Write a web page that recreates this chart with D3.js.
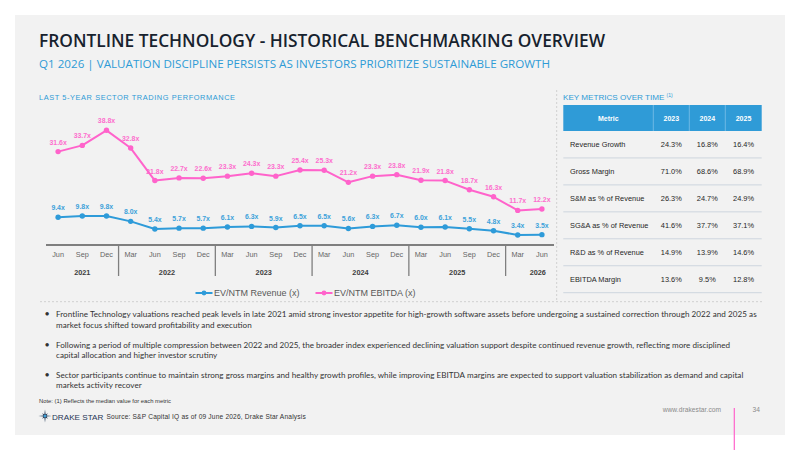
<!DOCTYPE html>
<html><head><meta charset="utf-8">
<script src="https://cdn.jsdelivr.net/npm/d3@7"></script>
<style>body{margin:0;background:#fff}svg{display:block}</style>
</head><body><svg id="c" width="800" height="450"></svg>
<script>
// ---------- DATA ----------
const periods = ["Jun","Sep","Dec","Mar","Jun","Sep","Dec","Mar","Jun","Sep","Dec","Mar","Jun","Sep","Dec","Mar","Jun","Sep","Dec","Mar","Jun"];
const periodYears = ["2021","2021","2021","2022","2022","2022","2022","2023","2023","2023","2023","2024","2024","2024","2024","2025","2025","2025","2025","2026","2026"];
const evRevenue = [9.4,9.8,9.8,8.0,5.4,5.7,5.7,6.1,6.3,5.9,6.5,6.5,5.6,6.3,6.7,6.0,6.1,5.5,4.8,3.4,3.5];
const evEbitda  = [31.6,33.7,38.8,32.8,21.8,22.7,22.6,23.3,24.3,23.3,25.4,25.3,21.2,23.3,23.8,21.9,21.8,18.7,16.3,11.7,12.2];
const seriesNames = ["EV/NTM Revenue (x)","EV/NTM EBITDA (x)"];
const tableHeader = ["Metric","2023","2024","2025"];
const metricNames = ["Revenue Growth","Gross Margin","S&M as % of Revenue","SG&A as % of Revenue","R&D as % of Revenue","EBITDA Margin"];
const metric2023 = ["24.3%","71.0%","26.3%","41.6%","14.9%","13.6%"];
const metric2024 = ["16.8%","68.6%","24.7%","37.7%","13.9%","9.5%"];
const metric2025 = ["16.4%","68.9%","24.9%","37.1%","14.6%","12.8%"];
const bullets = [
 ["Frontline Technology valuations reached peak levels in late 2021 amid strong investor appetite for high-growth software assets before undergoing a sustained correction through 2022 and 2025 as","market focus shifted toward profitability and execution"],
 ["Following a period of multiple compression between 2022 and 2025, the broader index experienced declining valuation support despite continued revenue growth, reflecting more disciplined","capital allocation and higher investor scrutiny"],
 ["Sector participants continue to maintain strong gross margins and healthy growth profiles, while improving EBITDA margins are expected to support valuation stabilization as demand and capital","markets activity recover"]
];
const bulletLineEnds = [[756.7,251.7],[730,217.3],[743.3,141.7]];

// ---------- STYLE ----------
const BLUE = "#2e9bd9", PINK = "#ff63cb", PANEL = "#f2f2f2";
const svg = d3.select("#c");
svg.append("rect").attr("x",15).attr("y",15).attr("width",770).attr("height",420).attr("fill",PANEL);

// fit helper: pick a font size whose natural width does not exceed target
function fitText(sel, target){
  const n = sel.node();
  const fs = +sel.attr("font-size");
  const L = n.getComputedTextLength();
  if (L > target) sel.attr("font-size", fs*target/L);
  sel.attr("textLength", target).attr("lengthAdjust","spacing");
  return sel;
}

// Title
fitText(svg.append("text").attr("x",39).attr("y",46.7).attr("font-family","'Open Sans'").attr("font-weight",600)
  .attr("font-size",18.6).attr("fill","#17222e")
  .text("FRONTLINE TECHNOLOGY - HISTORICAL BENCHMARKING OVERVIEW"), 566);
fitText(svg.append("text").attr("x",39).attr("y",68.3).attr("font-family","'Open Sans'").attr("font-weight",500)
  .attr("font-size",11.6).attr("fill","#2e9bd6")
  .text("Q1 2026 | VALUATION DISCIPLINE PERSISTS AS INVESTORS PRIORITIZE SUSTAINABLE GROWTH"), 511);
fitText(svg.append("text").attr("x",39).attr("y",100).attr("font-family","'Liberation Sans',Arial").attr("font-size",7.4)
  .attr("fill","#2e9bd6").text("LAST 5-YEAR SECTOR TRADING PERFORMANCE"), 196);
const km = svg.append("text").attr("x",563).attr("y",100).attr("font-family","'Liberation Sans',Arial").attr("font-size",8.1).attr("fill","#2e9bd6");
km.append("tspan").text("KEY METRICS OVER TIME ");
km.append("tspan").attr("font-size",5).attr("dy",-3).text("(1)");

// dashed dividers
svg.append("line").attr("x1",556.7).attr("x2",556.7).attr("y1",90).attr("y2",300)
  .attr("stroke","#c6c6c6").attr("stroke-width",0.8).attr("stroke-dasharray","2,2");
svg.append("line").attr("x1",40).attr("x2",762).attr("y1",301.7).attr("y2",301.7)
  .attr("stroke","#c6c6c6").attr("stroke-width",0.8).attr("stroke-dasharray","2,2");

// ---------- CHART ----------
const idx = d3.range(periods.length);
const x = d3.scaleBand().domain(idx).range([46,554]);
const y = d3.scaleLinear().domain([0,45]).range([245,112]);
const cx = i => x(i) + x.bandwidth()/2;

const g = svg.append("g");
const line = d3.line().x((d,i)=>cx(i)).y(d=>y(d));
[[evRevenue,BLUE],[evEbitda,PINK]].forEach(([vals,col])=>{
  g.append("path").datum(vals).attr("d",line).attr("fill","none").attr("stroke",col).attr("stroke-width",2).attr("stroke-linejoin","round");
  g.selectAll(null).data(vals).enter().append("circle").attr("cx",(d,i)=>cx(i)).attr("cy",d=>y(d)).attr("r",2.7).attr("fill",col);
  g.selectAll(null).data(vals).enter().append("text").attr("x",(d,i)=>cx(i)).attr("y",d=>y(d)-7)
    .attr("text-anchor","middle").attr("font-family","'Liberation Sans',Arial").attr("font-weight","bold")
    .attr("font-size",6.9).attr("fill",col).attr("opacity",0.92).text(d=>d.toFixed(1)+"x");
});

// x axis
const axisY = 245;
svg.append("line").attr("x1",46).attr("x2",554).attr("y1",axisY).attr("y2",axisY).attr("stroke","#595959").attr("stroke-width",1.4);
svg.selectAll(null).data(periods).enter().append("text").attr("x",(d,i)=>cx(i)).attr("y",257)
  .attr("text-anchor","middle").attr("font-family","'Liberation Sans',Arial").attr("font-size",7.3).attr("fill","#666").text(d=>d);
const groups = d3.groups(idx, i=>periodYears[i]);
groups.forEach(([yr, arr], gi)=>{
  const x0 = x(arr[0]), x1 = x(arr[arr.length-1]) + x.bandwidth();
  const lx = gi === groups.length-1 ? (x0 + x1)/2 + 8 : (x0 + x1)/2;
  svg.append("text").attr("x",lx).attr("y",274.5).attr("text-anchor","middle")
    .attr("font-family","'Liberation Sans',Arial").attr("font-weight","bold").attr("font-size",7.3).attr("fill","#404040").text(yr);
  if (gi>0) svg.append("line").attr("x1",x0).attr("x2",x0).attr("y1",axisY).attr("y2",276).attr("stroke","#7f7f7f").attr("stroke-width",1.3);
});

// legend
const leg = [[195.5,BLUE,214,seriesNames[0]],[315.5,PINK,334,seriesNames[1]]];
leg.forEach(([lx,col,tx,name])=>{
  svg.append("line").attr("x1",lx).attr("x2",lx+17).attr("y1",293).attr("y2",293).attr("stroke",col).attr("stroke-width",2);
  svg.append("circle").attr("cx",lx+8.5).attr("cy",293).attr("r",2.4).attr("fill",col);
  svg.append("text").attr("x",tx).attr("y",296.2).attr("font-family","'Liberation Sans',Arial").attr("font-size",9).attr("fill","#595959").text(name);
});

// ---------- TABLE ----------
const colEdges = [563.3,653.3,689.3,725.3,761.7];
svg.append("rect").attr("x",colEdges[0]).attr("y",105).attr("width",colEdges[4]-colEdges[0]).attr("height",26).attr("fill","#2f9bd7");
[1,2,3].forEach(k=>svg.append("line").attr("x1",colEdges[k]).attr("x2",colEdges[k]).attr("y1",105).attr("y2",131).attr("stroke","#7cc0ea").attr("stroke-width",0.8));
tableHeader.forEach((h,k)=>{
  svg.append("text").attr("x",(colEdges[k]+colEdges[k+1])/2).attr("y",120.8).attr("text-anchor","middle")
    .attr("font-family","'Liberation Sans',Arial").attr("font-weight","bold").attr("font-size",7).attr("fill","#fff").text(h);
});
const rowH = 26.95;
const cols = [metric2023,metric2024,metric2025];
metricNames.forEach((m,r)=>{
  const top = 131 + r*rowH;
  const by = top + rowH/2 + 2.8;
  svg.append("text").attr("x",570).attr("y",by).attr("font-family","'Liberation Sans',Arial").attr("font-size",7.4).attr("fill","#262626").text(m);
  cols.forEach((c,k)=>{
    svg.append("text").attr("x",(colEdges[k+1]+colEdges[k+2])/2).attr("y",by).attr("text-anchor","middle")
      .attr("font-family","'Liberation Sans',Arial").attr("font-size",7.4).attr("fill","#262626").text(c[r]);
  });
  svg.append("line").attr("x1",colEdges[0]).attr("x2",colEdges[4]).attr("y1",top+rowH).attr("y2",top+rowH)
    .attr("stroke","#cdd5de").attr("stroke-width",1);
});

// ---------- BULLETS ----------
const bulletBase = [317.3,347.6,377.6];
const bulletFont = 9;
// measure natural widths to find one common size that fits every line
const probe = svg.append("text").attr("font-family","Lato").attr("font-size",bulletFont);
let scale = 1;
bullets.forEach((lines,b)=>lines.forEach((ln,l)=>{
  probe.text(ln);
  const L = probe.node().getComputedTextLength();
  scale = Math.min(scale, (bulletLineEnds[b][l]-56)/L);
}));
probe.remove();
const bfs = bulletFont*scale;
bullets.forEach((lines,b)=>{
  svg.append("text").attr("x",44.5).attr("y",bulletBase[b]).attr("font-family","Lato").attr("font-size",9).attr("fill","#333").text("•");
  lines.forEach((ln,l)=>{
    svg.append("text").attr("x",56).attr("y",bulletBase[b]+l*10.6).attr("font-family","Lato").attr("font-size",bfs)
      .attr("fill","#333").attr("textLength",bulletLineEnds[b][l]-56).attr("lengthAdjust","spacing").text(ln);
  });
});

// ---------- FOOTER ----------
fitText(svg.append("text").attr("x",39).attr("y",403).attr("font-family","'Liberation Sans',Arial").attr("font-size",5.9).attr("fill","#333")
  .text("Note: (1) Reflects the median value for each metric"), 132);
// star logo
const sc = [45,416];
const pts = [];
for (let k=0;k<16;k++){
  const a = -Math.PI/2 + k*Math.PI/8;
  const r = k%4===0 ? 6.6 : (k%2===0 ? 4 : 1.6);
  pts.push([sc[0]+r*Math.cos(a), sc[1]+r*Math.sin(a)]);
}
svg.append("path").attr("d",d3.line()(pts)+"Z").attr("fill","#1d3554");
svg.append("circle").attr("cx",sc[0]).attr("cy",sc[1]).attr("r",1.3).attr("fill","#3aa3dc");
fitText(svg.append("text").attr("x",52).attr("y",419.5).attr("font-family","'Liberation Sans',Arial").attr("font-size",9).attr("fill","#1d3554")
  .text("DRAKE STAR"), 51.3);
fitText(svg.append("text").attr("x",106.5).attr("y",418.8).attr("font-family","'Liberation Sans',Arial").attr("font-size",6.6).attr("fill","#333")
  .text("Source: S&P Capital IQ as of 09 June 2026, Drake Star Analysis"), 199.2);
fitText(svg.append("text").attr("x",662.7).attr("y",411.5).attr("font-family","'Liberation Sans',Arial").attr("font-size",6.6).attr("fill","#8a8a8a")
  .text("www.drakestar.com"), 58.3);
svg.append("text").attr("x",752.5).attr("y",411.5).attr("font-family","'Liberation Sans',Arial").attr("font-size",6.6).attr("fill","#8a8a8a").text("34");
svg.append("line").attr("x1",734.3).attr("x2",734.3).attr("y1",408).attr("y2",450).attr("stroke","#ff63cb").attr("stroke-width",1.2);
</script></body></html>
